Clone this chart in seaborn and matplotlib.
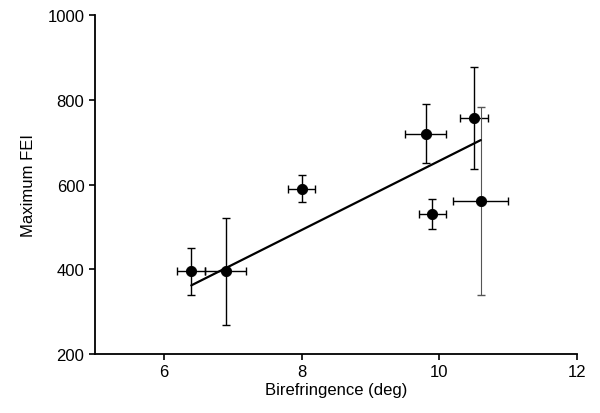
import matplotlib
matplotlib.use('Agg')
import matplotlib.pyplot as plt
import pandas as pd
import seaborn as sns

# Dados
birefringence = [6.4, 6.9, 8.0, 9.8, 10.5, 9.9, 10.6]
max_fei = [395, 395, 590, 720, 757, 530, 562]
x_err = [0.2, 0.3, 0.2, 0.3, 0.2, 0.2, 0.4]
y_err = [55, 127, 32, 70, 120, 36, 222]

# Linha de ajuste (extremos)
fit_x = [6.4, 10.6]
fit_y = [362, 705]

x_ticks = [6, 8, 10, 12]
y_ticks = [200, 400, 600, 800, 1000]


def create_plot():
    sns.set_style('ticks', {'axes.edgecolor': 'black', 'text.color': 'black',
                            'axes.labelcolor': 'black', 'xtick.color': 'black',
                            'ytick.color': 'black'})
    plt.rcParams['font.family'] = ['Liberation Sans', 'DejaVu Sans']
    fig = plt.figure(figsize=(6, 4.14), dpi=100)
    ax = fig.add_axes([0.158, 0.1425, 0.804, 0.8185])

    data = pd.DataFrame({'x': birefringence, 'y': max_fei})

    # barras de erro
    for i in range(len(birefringence)):
        last = i == len(birefringence) - 1
        ax.errorbar(birefringence[i], max_fei[i], xerr=x_err[i], fmt='none',
                    ecolor='black', elinewidth=1.0, capsize=3, capthick=1.0)
        ax.errorbar(birefringence[i], max_fei[i], yerr=y_err[i], fmt='none',
                    ecolor='#555555' if last else 'black',
                    elinewidth=0.8 if last else 1.0, capsize=3, capthick=1.0)

    sns.lineplot(x=fit_x, y=fit_y, ax=ax, color='black', linewidth=1.6)
    sns.scatterplot(data=data, x='x', y='y', ax=ax, color='black', s=55,
                    edgecolor='black', zorder=5)

    ax.set_xlim(5, 12)
    ax.set_ylim(200, 1000)
    ax.set_xticks(x_ticks)
    ax.set_yticks(y_ticks)
    ax.tick_params(labelsize=12, length=4, width=1.2, direction='out',
                   colors='black')
    for s in ['left', 'bottom']:
        ax.spines[s].set_linewidth(1.3)
        ax.spines[s].set_color('black')
    sns.despine(ax=ax)
    ax.set_xlabel('Birefringence (deg)', fontsize=12, labelpad=2, color='black')
    ax.set_ylabel('Maximum FEI', fontsize=12, labelpad=8, color='black')
    fig.savefig('out.png', dpi=100)


if __name__ == '__main__':
    create_plot()
